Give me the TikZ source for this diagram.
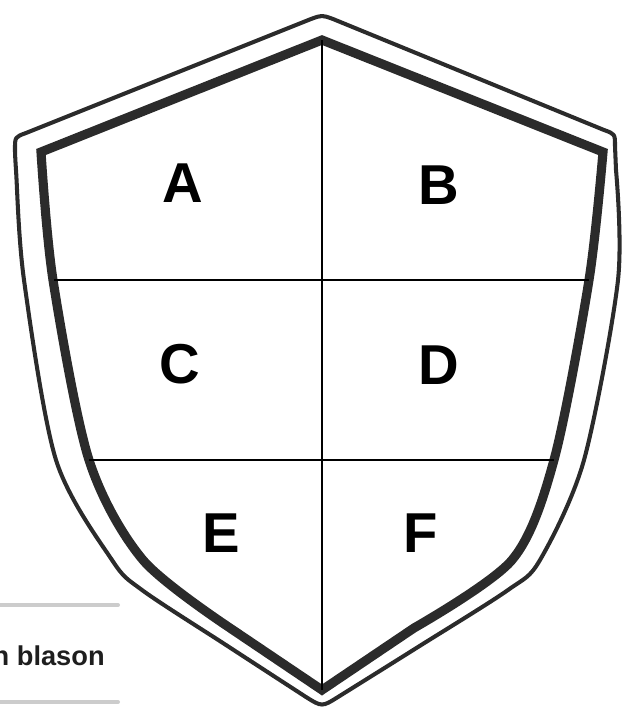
\documentclass[tikz,border=0pt]{standalone}
\usepackage{fontspec}
\setmainfont{Liberation Sans}
\definecolor{shieldgray}{HTML}{2B2B2B}
\definecolor{rulegray}{HTML}{CCCCCC}
\definecolor{captiongray}{HTML}{1E1E1E}

\begin{document}
\begin{tikzpicture}[x=0.02cm, y=-0.02cm,
    rim/.style={draw=shieldgray, line width=2.3pt, line join=round},
    band/.style={draw=shieldgray, line width=5.2pt, line join=miter},
    divider/.style={draw=black, line width=1.4pt},
    letter/.style={font=\fontsize{32}{32}\selectfont\bfseries, text=black},
    caption/.style={font=\fontsize{15.5}{15.5}\selectfont\bfseries, text=captiongray, anchor=base east, inner sep=0pt},
    rule/.style={draw=rulegray, line width=2.3pt}]
  \useasboundingbox (0,0) rectangle (622,717);
  \clip (0,0) rectangle (622,717);

  % shield, pixel grid of the sheet (y runs down)
  \coordinate (apex) at (322,40);
  \coordinate (tip) at (322,690);
  \coordinate (midL) at (54,280);
  \coordinate (midR) at (589,280);
  \coordinate (lowL) at (89,460);
  \coordinate (lowR) at (554,460);

  % outer thin rim, corners rounded by hand
  \draw[rim]
    plot[smooth] coordinates {(306,697) (226,645) (142,590) (112,560) (56,460) (24,280) (16,170) (15,149)}
    .. controls (15,137) .. (26,133) -- (311,19)
    .. controls (322,15) .. (333,19) -- (604,130)
    .. controls (615,134) .. (615,146)
    -- plot[smooth] coordinates {(616,170) (618,280) (584,460) (540,560) (508,590) (418,647) (338,697)}
    .. controls (322,707) .. (306,697) -- cycle;

  % inner heavy band
  \draw[band] (tip)
    -- plot[smooth] coordinates {(230,628) (143,560) (89,460) (53,280) (41,152)}
    -- (apex)
    -- plot[smooth] coordinates {(603,152) (589,280) (554,460) (512,560) (414,628)} -- cycle;

  % quarters
  \draw[divider] (apex) -- (tip);
  \draw[divider] (midL) -- (midR);
  \draw[divider] (lowL) -- (lowR);

  \node[letter] (qa) at (183,183) {A};
  \node[letter] (qb) at (439,185) {B};
  \node[letter] (qc) at (180,364) {C};
  \node[letter] (qd) at (439,365) {D};
  \node[letter] (qe) at (221,533) {E};
  \node[letter] (qf) at (421,533) {F};

  % cut-off caption at the lower left
  \draw[rule, line cap=round] (0,605) -- (118,605);
  \node[caption] (blason) at (105,665) {n blason};
  \draw[rule, line cap=round] (0,702) -- (118,702);
\end{tikzpicture}
\end{document}
